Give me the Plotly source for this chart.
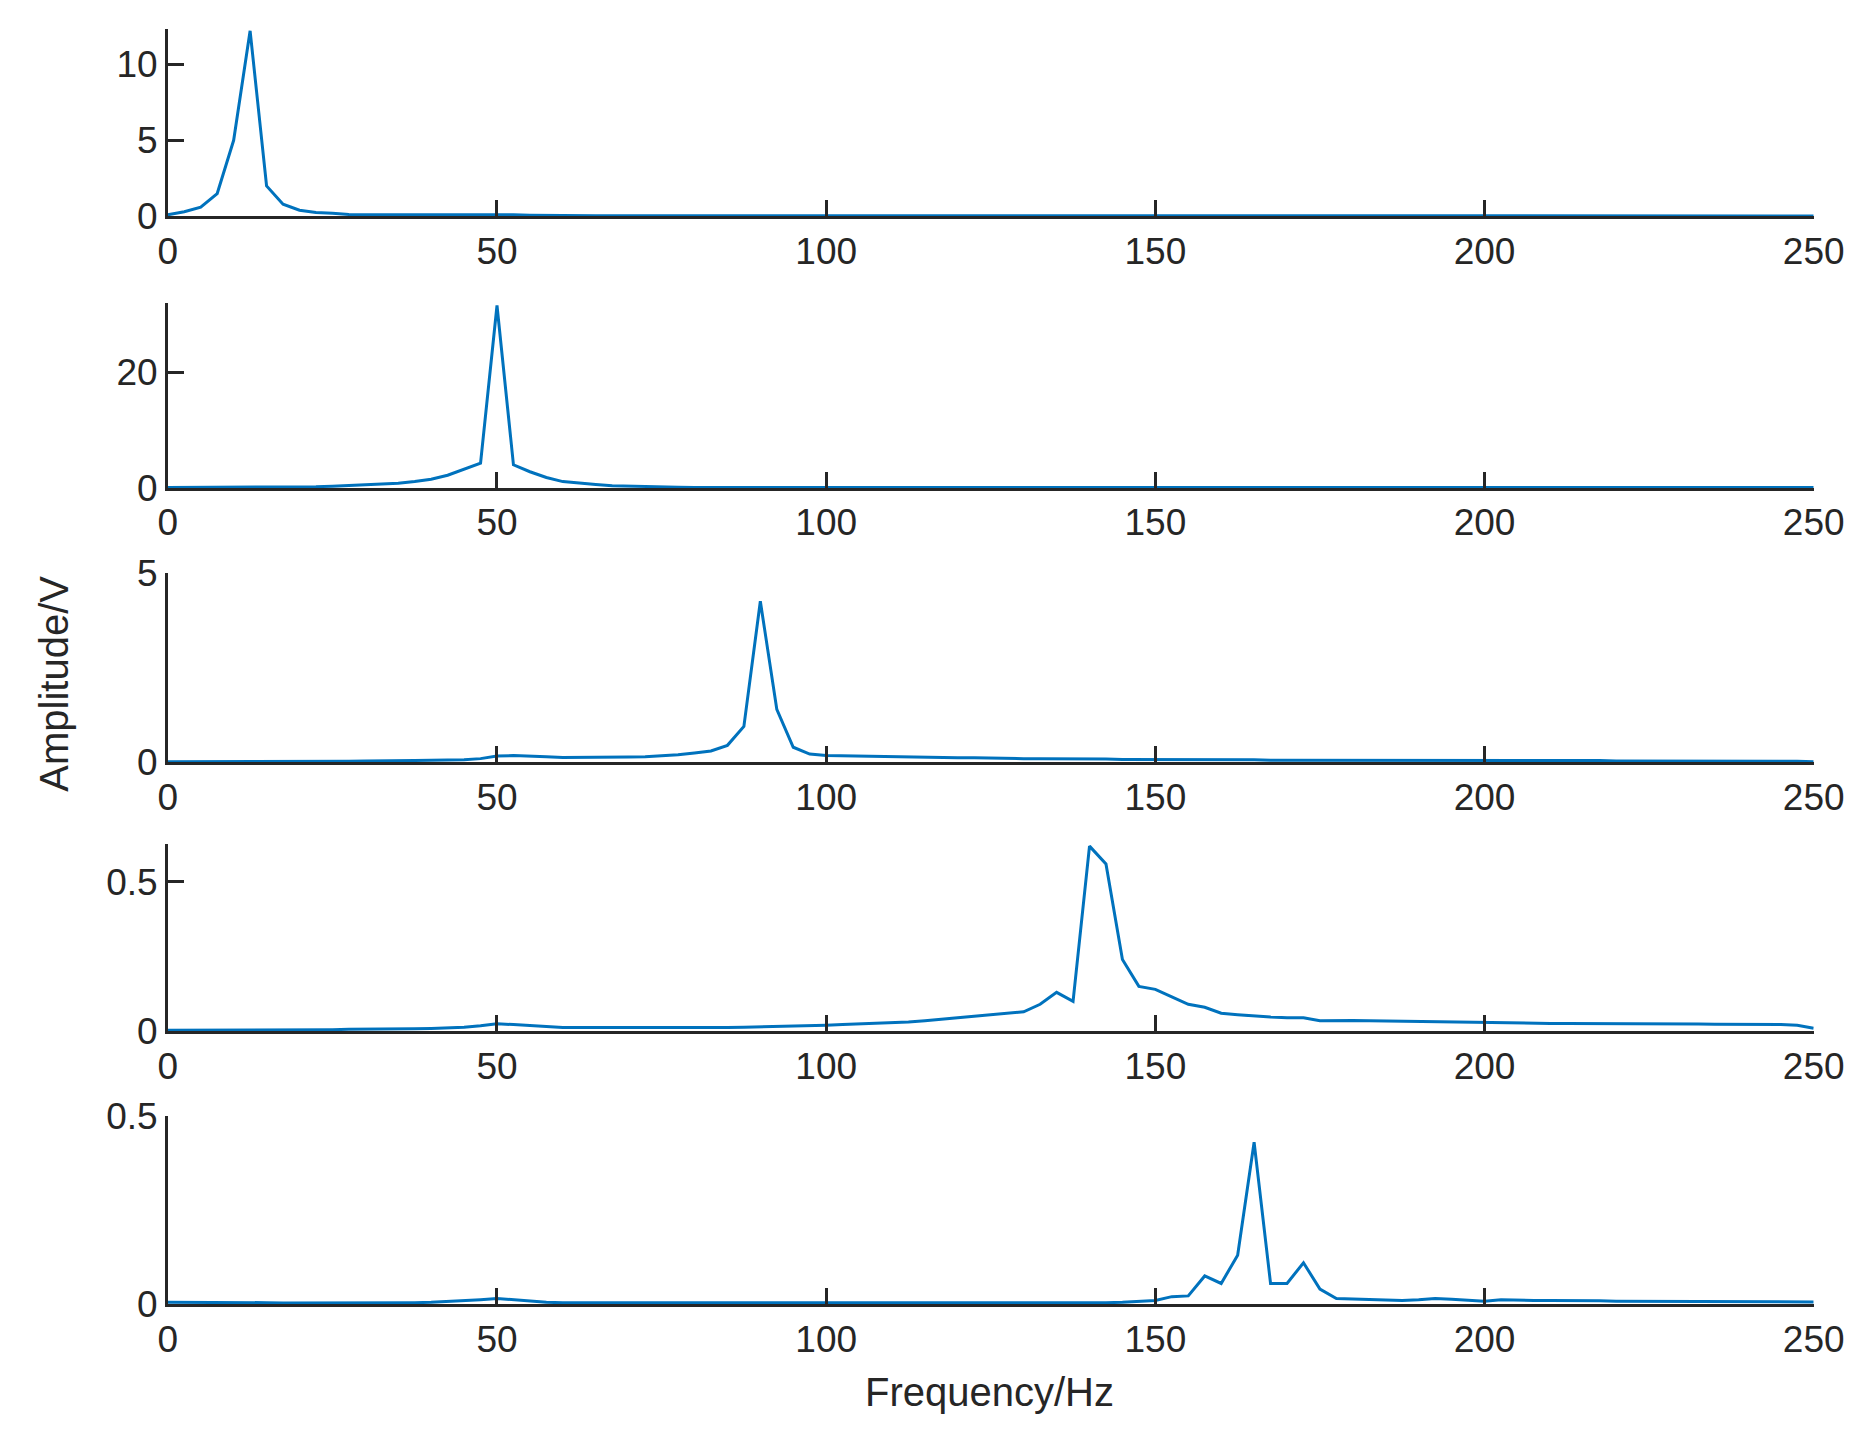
import plotly.graph_objects as go

freq = [i * 2.5 for i in range(101)]

amp1 = [0.1,0.3,0.6,1.5,5.0,12.2,2.0,0.8,0.4,0.25,
        0.2,0.12,0.1,0.09,0.08,0.08,0.09,0.1,0.11,0.12,
        0.12,0.1,0.08,0.06,0.05,0.05,0.04,0.04,0.04,0.04,
        0.04,0.04,0.03,0.03,0.03,0.03,0.03,0.03,0.03,0.03,
        0.03,0.03,0.03,0.03,0.03,0.03,0.03,0.03,0.03,0.03,
        0.03,0.03,0.03,0.03,0.03,0.03,0.03,0.03,0.03,0.03,
        0.03,0.03,0.03,0.03,0.03,0.03,0.03,0.03,0.03,0.03,
        0.03,0.03,0.03,0.03,0.04,0.04,0.04,0.04,0.04,0.04,
        0.04,0.04,0.04,0.04,0.04,0.04,0.04,0.04,0.04,0.04,
        0.04,0.04,0.04,0.04,0.04,0.04,0.04,0.04,0.04,0.04,
        0.03]
amp2 = [0.1,0.1,0.1,0.1,0.1,0.1,0.12,0.15,0.18,0.22,
        0.3,0.4,0.5,0.65,0.8,1.1,1.5,2.2,3.2,4.3,
        31.5,4.0,2.8,1.8,1.1,0.8,0.6,0.4,0.3,0.2,
        0.15,0.12,0.1,0.1,0.1,0.1,0.1,0.1,0.1,0.1,
        0.08,0.08,0.08,0.08,0.08,0.08,0.08,0.08,0.08,0.08,
        0.08,0.08,0.08,0.08,0.08,0.08,0.08,0.08,0.08,0.08,
        0.08,0.08,0.08,0.08,0.08,0.08,0.08,0.08,0.08,0.08,
        0.08,0.08,0.08,0.08,0.08,0.08,0.08,0.08,0.08,0.08,
        0.08,0.08,0.08,0.08,0.08,0.08,0.08,0.08,0.08,0.08,
        0.08,0.08,0.08,0.08,0.08,0.08,0.08,0.08,0.08,0.08,
        0.08]
amp3 = [0.02,0.02,0.02,0.02,0.02,0.02,0.02,0.02,0.03,0.03,
        0.03,0.03,0.04,0.04,0.05,0.05,0.06,0.06,0.07,0.1,
        0.17,0.18,0.17,0.15,0.13,0.13,0.13,0.14,0.14,0.15,
        0.18,0.2,0.25,0.3,0.45,0.95,4.25,1.4,0.4,0.22,
        0.18,0.17,0.16,0.15,0.14,0.14,0.13,0.13,0.12,0.12,
        0.11,0.11,0.1,0.1,0.1,0.09,0.09,0.09,0.08,0.08,
        0.08,0.08,0.07,0.07,0.07,0.07,0.07,0.06,0.06,0.06,
        0.06,0.06,0.06,0.06,0.06,0.06,0.06,0.06,0.06,0.06,
        0.06,0.06,0.06,0.06,0.06,0.06,0.06,0.05,0.04,0.04,
        0.04,0.04,0.04,0.04,0.03,0.03,0.03,0.03,0.03,0.03,
        0.02]
amp4 = [0.003,0.003,0.003,0.003,0.003,0.004,0.004,0.004,0.005,0.005,
        0.005,0.006,0.006,0.007,0.007,0.008,0.009,0.01,0.013,0.018,
        0.025,0.022,0.018,0.014,0.012,0.012,0.012,0.012,0.012,0.012,
        0.011,0.01,0.01,0.011,0.012,0.013,0.014,0.015,0.017,0.018,
        0.02,0.022,0.024,0.026,0.028,0.031,0.035,0.04,0.045,0.05,
        0.055,0.06,0.065,0.09,0.13,0.1,0.62,0.56,0.24,0.15,
        0.14,0.115,0.09,0.08,0.06,0.055,0.05,0.047,0.045,0.045,
        0.035,0.036,0.036,0.035,0.034,0.033,0.032,0.031,0.03,0.03,
        0.028,0.028,0.027,0.027,0.026,0.026,0.026,0.025,0.025,0.025,
        0.024,0.024,0.024,0.024,0.023,0.023,0.023,0.023,0.022,0.02,
        0.01]
amp5 = [0.005,0.005,0.005,0.005,0.005,0.004,0.004,0.003,0.003,0.003,
        0.003,0.003,0.003,0.003,0.003,0.004,0.005,0.007,0.009,0.012,
        0.015,0.012,0.008,0.005,0.004,0.004,0.004,0.004,0.004,0.003,
        0.003,0.004,0.004,0.004,0.004,0.004,0.004,0.004,0.004,0.004,
        0.004,0.004,0.004,0.004,0.004,0.004,0.004,0.004,0.004,0.004,
        0.004,0.004,0.004,0.004,0.004,0.004,0.004,0.004,0.005,0.008,
        0.01,0.02,0.022,0.075,0.055,0.13,0.43,0.055,0.055,0.11,
        0.04,0.015,0.014,0.012,0.012,0.01,0.012,0.015,0.013,0.01,
        0.008,0.012,0.01,0.01,0.01,0.01,0.009,0.009,0.008,0.008,
        0.008,0.008,0.008,0.008,0.008,0.008,0.008,0.008,0.008,0.008,
        0.006]

series = [amp1, amp2, amp3, amp4, amp5]
y_ranges = [[0, 12.3], [0, 32], [0, 5], [0, 0.626], [0, 0.5]]
y_ticks = [[0, 5, 10], [0, 20], [0, 5], [0, 0.5], [0, 0.5]]
x_ticks = [0, 50, 100, 150, 200, 250]

panels = [(0.0148, 0.145), (0.205, 0.334), (0.393, 0.525), (0.582, 0.712), (0.771, 0.902)]

fig = go.Figure()
font = dict(family="Liberation Sans, Arial", size=37, color="#262626")
layout = {}
for i, (ys, (top, bot)) in enumerate(zip(series, panels)):
    n = "" if i == 0 else str(i + 1)
    fig.add_trace(go.Scatter(x=freq, y=ys, mode="lines", xaxis="x" + n, yaxis="y" + n,
                             line=dict(color="#0072BD", width=3), showlegend=False))
    layout["xaxis" + n] = dict(domain=[0.0863, 0.975], anchor="y" + n, range=[0, 250],
                               tickvals=x_ticks, ticks="inside", ticklen=16, tickwidth=3,
                               tickcolor="#262626", showline=True, linecolor="#262626",
                               linewidth=3, showgrid=False, zeroline=False, tickfont=font,
                               automargin=False)
    layout["yaxis" + n] = dict(domain=[1 - bot, 1 - top], anchor="x" + n, range=y_ranges[i],
                               tickvals=y_ticks[i], ticks="inside", ticklen=16, tickwidth=2.5,
                               tickcolor="#262626", showline=True, linecolor="#262626",
                               linewidth=2.5, showgrid=False, zeroline=False, tickfont=font,
                               automargin=False)

fig.update_layout(**layout)
fig.update_layout(
    width=1852, height=1437, margin=dict(l=0, r=0, t=0, b=0, autoexpand=False),
    plot_bgcolor="white", paper_bgcolor="white",
    annotations=[
        dict(text="Frequency/Hz", x=0.53, y=1 - 0.963, xref="paper", yref="paper",
             showarrow=False, font=dict(family="Liberation Sans, Arial", size=40, color="#262626"),
             xanchor="center", yanchor="middle"),
        dict(text="Amplitude/V", x=0.025, y=1 - 0.47, xref="paper", yref="paper",
             showarrow=False, font=dict(family="Liberation Sans, Arial", size=40, color="#262626"),
             textangle=-90, xanchor="center", yanchor="middle"),
    ],
)
fig.write_html("out.html")
